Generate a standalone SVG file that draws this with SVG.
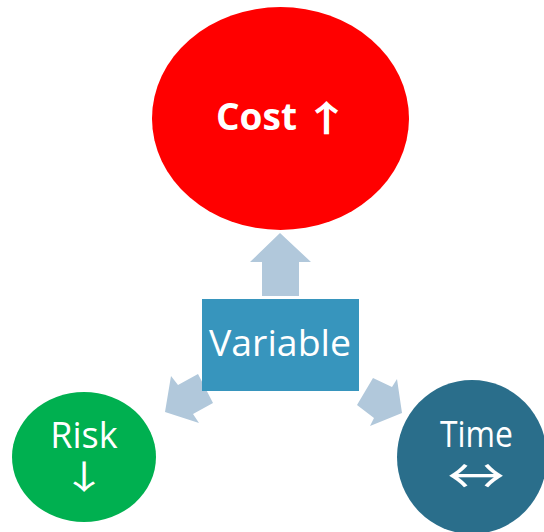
<svg xmlns="http://www.w3.org/2000/svg" width="544" height="532" viewBox="0 0 544 532">
  <style>
    .lbl { font-family: "Open Sans", "DejaVu Sans", sans-serif; fill: #ffffff; }
    .sym { font-family: "Noto Sans CJK SC", "DejaVu Sans", sans-serif; fill: #ffffff; }
    .link { fill: #b1c8db; }
  </style>
  <rect width="544" height="532" fill="#ffffff"/>

  <!-- block arrows from the centre box to each outcome -->
  <g id="connectors">
    <polygon class="link" points="280,233 311,262 299,262 299,296 262,296 262,262 250,262"/>
    <polygon class="link" points="165,412 171,376 178,385 198,374 213,403 193,414 199,423"/>
    <polygon class="link" points="402,413 397,379 392,387 373,378 357,405 374,418 370,426"/>
  </g>

  <g id="cost">
    <ellipse cx="280.5" cy="118.5" rx="128.5" ry="111.5" fill="#ff0000"/>
    <text class="lbl" font-weight="bold" font-size="37" x="216" y="130">Cost</text>
    <text class="sym" font-weight="bold" font-size="36" text-anchor="middle" transform="translate(326.5,132) scale(1.35,1)">↑</text>
  </g>

  <g id="variable">
    <rect x="202" y="299" width="157" height="92" fill="#3795bd"/>
    <text class="lbl" font-size="37" x="280" y="356" text-anchor="middle" textLength="142" lengthAdjust="spacingAndGlyphs">Variable</text>
  </g>

  <g id="risk">
    <ellipse cx="84" cy="457" rx="72" ry="65" fill="#00b050"/>
    <text class="lbl" font-size="36" x="84" y="448" text-anchor="middle">Risk</text>
    <text class="sym" font-size="33" text-anchor="middle" transform="translate(84,489) scale(1.4,1)">↓</text>
  </g>

  <g id="time">
    <ellipse cx="472" cy="457" rx="75" ry="77" fill="#2a6e8b"/>
    <text class="lbl" font-size="36" x="476.5" y="447" text-anchor="middle" textLength="73" lengthAdjust="spacingAndGlyphs">Time</text>
    <text class="sym" font-size="36" text-anchor="middle" transform="translate(476,494) scale(1.6,1.35)">↔</text>
  </g>
</svg>
